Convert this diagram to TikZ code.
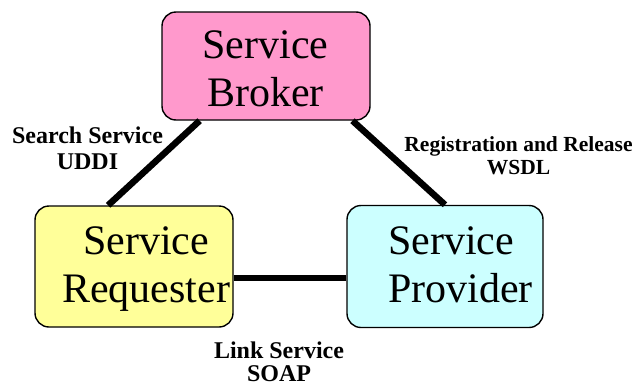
\documentclass[tikz,border=0pt]{standalone}
\usepackage{fontspec}
\setmainfont{Liberation Serif}
\usetikzlibrary{calc}
\begin{document}
\begin{tikzpicture}[x=1pt,y=-1pt,
  box/.style={draw=black,line width=1.4pt,rounded corners=14pt,inner sep=0pt},
  boxtext/.style={align=center,inner sep=0pt,font=\fontsize{42}{48}\selectfont},
  tag/.style={align=center,inner sep=0pt},
  link/.style={line width=6.5pt,line cap=butt}]
\useasboundingbox (0,0) rectangle (636,386);

% the three parties
\node[box,fill={rgb,255:red,255;green,153;blue,204},minimum width=208pt,minimum height=108pt] (broker) at (266,66) {};
\node[box,fill={rgb,255:red,255;green,255;blue,153},minimum width=198pt,minimum height=121pt] (req) at (134,266.5) {};
\node[box,fill={rgb,255:red,204;green,255;blue,255},minimum width=196pt,minimum height=122pt] (prov) at (445,266.5) {};

\node[boxtext] (brokertxt) at (265.5,69) {Service\\Broker};
\node[boxtext] (reqtxt) at (146,269.5) {Service\\Requester};
\node[boxtext,align=left,anchor=west] (provtxt) at (388,265) {Service\\Provider};

% connectors between the parties
\coordinate (bl) at ($(broker.south west)!0.183!(broker.south east)$);
\coordinate (br) at ($(broker.south west)!0.913!(broker.south east)$);
\coordinate (rt) at ($(req.north west)!0.37!(req.north east)$);
\coordinate (pt) at ($(prov.north west)!0.5!(prov.north east)$);
\draw[link] (bl) -- (rt);
\draw[link] (br) -- (pt);
\draw[link] ($(req.east)+(0,11.5)$) -- ($(prov.west)+(0,11.5)$);

% connector labels
\node[tag,font=\bfseries\fontsize{24}{26}\selectfont] (searchtag) at (87.5,148) {Search Service\\UDDI};
\node[tag,font=\bfseries\fontsize{21.5}{23}\selectfont] (regtag) at (518.5,156) {Registration and Release\\WSDL};
\node[tag,font=\bfseries\fontsize{24}{23}\selectfont] (linktag) at (279,362) {Link Service\\SOAP};
\end{tikzpicture}
\end{document}
